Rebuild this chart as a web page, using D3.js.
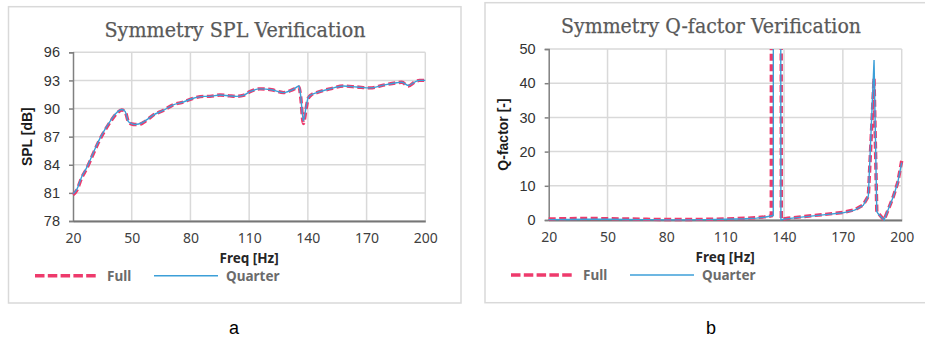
<!DOCTYPE html>
<html>
<head>
<meta charset="utf-8">
<script src="https://cdn.jsdelivr.net/npm/d3@7"></script>
<style>
  body { margin: 0; background: #ffffff; }
  svg { display: block; }
</style>
</head>
<body>
<div id="chart"></div>
<script>

// ---- data ----
const freqTicks = [20, 50, 80, 110, 140, 170, 200];
const splTicks = [78, 81, 84, 87, 90, 93, 96];
const qTicks = [0, 10, 20, 30, 40, 50];
const seriesNames = ["Full", "Quarter"];

const splFreq = [20, 22, 24.4, 27, 30.4, 33, 36.4, 39.8, 42, 44.9, 46.6, 48.3, 50, 51.7, 53.5,
                 55.9, 58, 61, 66.1, 71.2, 76.4, 81.5, 86.6, 90, 95.1, 100, 103.6, 107, 110.4, 115.5,
                 121.5, 127.5, 132.6, 135.5, 136.3, 137.7, 139.1, 140.2, 142, 144.5, 151.3, 158.1, 165,
                 171.8, 178.6, 185.4, 188, 191.3, 194.8, 197, 200];
const splFull = [80.8, 81.3, 82.6, 83.6, 85.2, 86.4, 87.7, 88.8, 89.4, 89.85, 89.7, 88.6, 88.35, 88.3, 88.3,
                 88.5, 88.8, 89.3, 89.8, 90.4, 90.7, 91.1, 91.3, 91.3, 91.45, 91.35, 91.3, 91.4, 91.8, 92.1,
                 92.0, 91.7, 92.05, 92.3, 91.3, 88.4, 90.0, 91.1, 91.5, 91.7, 92.1, 92.4, 92.3,
                 92.2, 92.5, 92.75, 92.8, 92.4, 92.85, 93.0, 93.0];
const splQuarter = [80.9, 81.4, 82.7, 83.7, 85.3, 86.5, 87.8, 88.9, 89.5, 89.9, 89.7, 88.6, 88.4, 88.3, 88.35,
                    88.55, 88.85, 89.3, 89.8, 90.4, 90.7, 91.1, 91.3, 91.3, 91.45, 91.35, 91.3, 91.4, 91.8, 92.1,
                    92.0, 91.7, 92.05, 92.4, 91.4, 88.7, 90.2, 91.2, 91.5, 91.7, 92.1, 92.4, 92.3,
                    92.2, 92.5, 92.75, 92.8, 92.45, 92.85, 93.0, 93.0];

const qFreqFull = [20, 30, 40, 50, 60, 70, 80, 90, 100, 110, 120, 126, 130, 133.5, 134, 136, 138, 138.6,
                   142, 150, 160, 170, 176, 180.4, 183, 185.9, 187.3, 188, 191, 195.7, 198, 200];
const qFull = [0.3, 0.4, 0.45, 0.4, 0.3, 0.2, 0.15, 0.15, 0.2, 0.3, 0.5, 0.7, 0.9, 1.2, 900, 900, 900, 0.2,
               0.5, 1.0, 1.6, 2.2, 3.0, 4.4, 7.0, 41.4, 2.4, 2.0, 0, 6.8, 11, 17.3];
const qFreqQuarter = [20, 30, 40, 50, 60, 70, 80, 90, 100, 110, 120, 126, 130, 134.5, 135.3, 136.3, 137.2, 138.4,
                      142, 150, 160, 170, 176, 180.4, 183, 185.9, 187.3, 188, 191, 195.7, 198, 200];
const qQuarter = [0.1, 0.15, 0.2, 0.2, 0.15, 0.1, 0.05, 0.05, 0.1, 0.2, 0.35, 0.55, 0.8, 1.3, 900, 900, 900, 0.1,
                  0.4, 0.9, 1.5, 2.1, 2.9, 4.3, 7.0, 46.8, 2.5, 1.8, 0, 6.8, 11, 16.8];

const fullColor = "#ee3a6c";
const quarterColor = "#3c9fd8";

const svg = d3.select("#chart").append("svg")
              .attr("width", 925)
              .attr("height", 341);

const toPoints = function(xs, ys) {
    return xs.map(function(x, i) { return {x: x, y: ys[i]}; });
};

const drawPanel = function(cfg) {
    // panel frame
    svg.append("rect")
       .attr("x", cfg.frame[0]).attr("y", cfg.frame[1])
       .attr("width", cfg.frame[2]).attr("height", cfg.frame[3])
       .attr("fill", "#ffffff")
       .attr("stroke", "#d9d9d9")
       .attr("stroke-width", 1.5);

    const xScale = d3.scaleLinear().domain([20, 200]).range([cfg.plot.left, cfg.plot.right]);
    const yScale = d3.scaleLinear().domain(cfg.yDomain).range([cfg.plot.bottom, cfg.plot.top]);

    const g = svg.append("g");

    // grid
    g.selectAll(".hgrid").data(cfg.yTicks).enter().append("line")
     .attr("x1", cfg.plot.left).attr("x2", cfg.plot.right)
     .attr("y1", function(d) { return yScale(d); })
     .attr("y2", function(d) { return yScale(d); })
     .attr("stroke", "#d9d9d9").attr("stroke-width", 1.5);
    g.selectAll(".vgrid").data(freqTicks.slice(1)).enter().append("line")
     .attr("y1", cfg.plot.top).attr("y2", cfg.plot.bottom)
     .attr("x1", function(d) { return xScale(d); })
     .attr("x2", function(d) { return xScale(d); })
     .attr("stroke", "#d9d9d9").attr("stroke-width", 1.5);

    // y axis
    const yAxis = d3.axisLeft(yScale).tickValues(cfg.yTicks).tickSize(4).tickPadding(9);
    const yAxisGroup = g.append("g")
                        .attr("transform", `translate(${cfg.plot.left}, 0)`)
                        .call(yAxis);
    yAxisGroup.select(".domain").attr("stroke", "#808080").attr("stroke-width", 1.5);
    yAxisGroup.selectAll(".tick line").attr("stroke", "#808080").attr("stroke-width", 1.5);
    yAxisGroup.selectAll(".tick text")
              .attr("font-family", "'Liberation Sans', Arial, sans-serif")
              .attr("font-size", 14.5)
              .attr("fill", "#333333");

    // x axis
    const xAxis = d3.axisBottom(xScale).tickValues(freqTicks).tickSize(0).tickPadding(12);
    const xAxisGroup = g.append("g")
                        .attr("transform", `translate(0, ${cfg.plot.bottom})`)
                        .call(xAxis);
    xAxisGroup.select(".domain").attr("stroke", "#767676").attr("stroke-width", 2.2);
    xAxisGroup.selectAll(".tick text")
              .attr("font-family", "'Noto Sans', 'Open Sans', sans-serif")
              .attr("font-size", 14)
              .attr("fill", "#404040");

    // axis titles
    svg.append("text")
       .attr("x", (cfg.plot.left + cfg.plot.right) / 2)
       .attr("y", cfg.plot.bottom + 42)
       .attr("text-anchor", "middle")
       .attr("font-family", "'Noto Sans', 'Open Sans', sans-serif")
       .attr("font-weight", "bold")
       .attr("font-size", 13.5)
       .attr("fill", "#262626")
       .text("Freq [Hz]");

    svg.append("text")
       .attr("transform", `translate(${cfg.yLabelX}, ${(cfg.plot.top + cfg.plot.bottom) / 2}) rotate(-90)`)
       .attr("text-anchor", "middle")
       .attr("dy", "0.35em")
       .attr("font-family", "'Liberation Sans', Arial, sans-serif")
       .attr("font-weight", "bold")
       .attr("font-size", 14)
       .attr("fill", "#1a1a1a")
       .text(cfg.yLabel);

    // title
    svg.append("text")
       .attr("x", cfg.titleX)
       .attr("y", cfg.titleY)
       .attr("text-anchor", "middle")
       .attr("font-family", "'DejaVu Serif', serif")
       .attr("font-size", 19.5)
       .attr("textLength", cfg.titleWidth)
       .attr("lengthAdjust", "spacingAndGlyphs")
       .attr("fill", "#595959")
       .attr("stroke", "#595959")
       .attr("stroke-width", 0.25)
       .text(cfg.title);

    // clip for lines
    svg.append("clipPath").attr("id", cfg.id + "-clip")
       .append("rect")
       .attr("x", cfg.plot.left - 5).attr("y", cfg.plot.top)
       .attr("width", cfg.plot.right - cfg.plot.left + 10)
       .attr("height", cfg.plot.bottom - cfg.plot.top + 5);

    const line = d3.line()
                   .x(function(d) { return xScale(d.x); })
                   .y(function(d) { return yScale(d.y); })
                   .curve(cfg.curve);

    const lines = svg.append("g").attr("clip-path", `url(#${cfg.id}-clip)`);
    lines.append("path")
         .attr("d", line(cfg.full))
         .attr("fill", "none")
         .attr("stroke", fullColor)
         .attr("stroke-width", 3.4)
         .attr("stroke-dasharray", "7,3.5");
    lines.append("path")
         .attr("d", line(cfg.quarter))
         .attr("fill", "none")
         .attr("stroke", quarterColor)
         .attr("stroke-width", 1.4);

    // legend
    const legY = cfg.legendY;
    svg.append("line")
       .attr("x1", cfg.legendX).attr("x2", cfg.legendX + 62)
       .attr("y1", legY).attr("y2", legY)
       .attr("stroke", fullColor).attr("stroke-width", 3.6)
       .attr("stroke-dasharray", "9.5,3.3");
    svg.append("line")
       .attr("x1", cfg.legendX + 119).attr("x2", cfg.legendX + 183)
       .attr("y1", legY).attr("y2", legY)
       .attr("stroke", quarterColor).attr("stroke-width", 1.4);
    svg.selectAll(".leg-" + cfg.id).data(seriesNames).enter().append("text")
       .attr("x", function(d, i) { return cfg.legendX + (i === 0 ? 72 : 191); })
       .attr("y", legY + 5)
       .attr("font-family", "'Noto Sans', 'Open Sans', sans-serif")
       .attr("font-weight", "bold")
       .attr("font-size", 13.5)
       .attr("fill", "#6b6b6b")
       .text(function(d) { return d; });

    // panel caption
    svg.append("text")
       .attr("x", cfg.captionX)
       .attr("y", 334)
       .attr("text-anchor", "middle")
       .attr("font-family", "'Liberation Sans', Arial, sans-serif")
       .attr("font-size", 18)
       .attr("fill", "#000000")
       .text(cfg.caption);
};

drawPanel({
    id: "spl",
    frame: [8.5, 6.7, 452.5, 296.3],
    plot: {left: 73, right: 425.3, top: 52.3, bottom: 221},
    yDomain: [78, 96],
    yTicks: splTicks,
    yLabel: "SPL [dB]",
    yLabelX: 27,
    title: "Symmetry SPL Verification",
    titleX: 235,
    titleY: 36.5,
    titleWidth: 261,
    curve: d3.curveMonotoneX,
    full: toPoints(splFreq, splFull),
    quarter: toPoints(splFreq, splQuarter),
    legendX: 35,
    legendY: 275.7,
    caption: "a",
    captionX: 234
});

drawPanel({
    id: "q",
    frame: [485, 2.7, 450, 300],
    plot: {left: 548.7, right: 901.7, top: 49, bottom: 220},
    yDomain: [0, 50],
    yTicks: qTicks,
    yLabel: "Q-factor [-]",
    yLabelX: 503,
    title: "Symmetry Q-factor Verification",
    titleX: 711,
    titleY: 33.3,
    titleWidth: 300,
    curve: d3.curveLinear,
    full: toPoints(qFreqFull, qFull),
    quarter: toPoints(qFreqQuarter, qQuarter),
    legendX: 511,
    legendY: 275,
    caption: "b",
    captionX: 711
});

</script>
</body>
</html>
